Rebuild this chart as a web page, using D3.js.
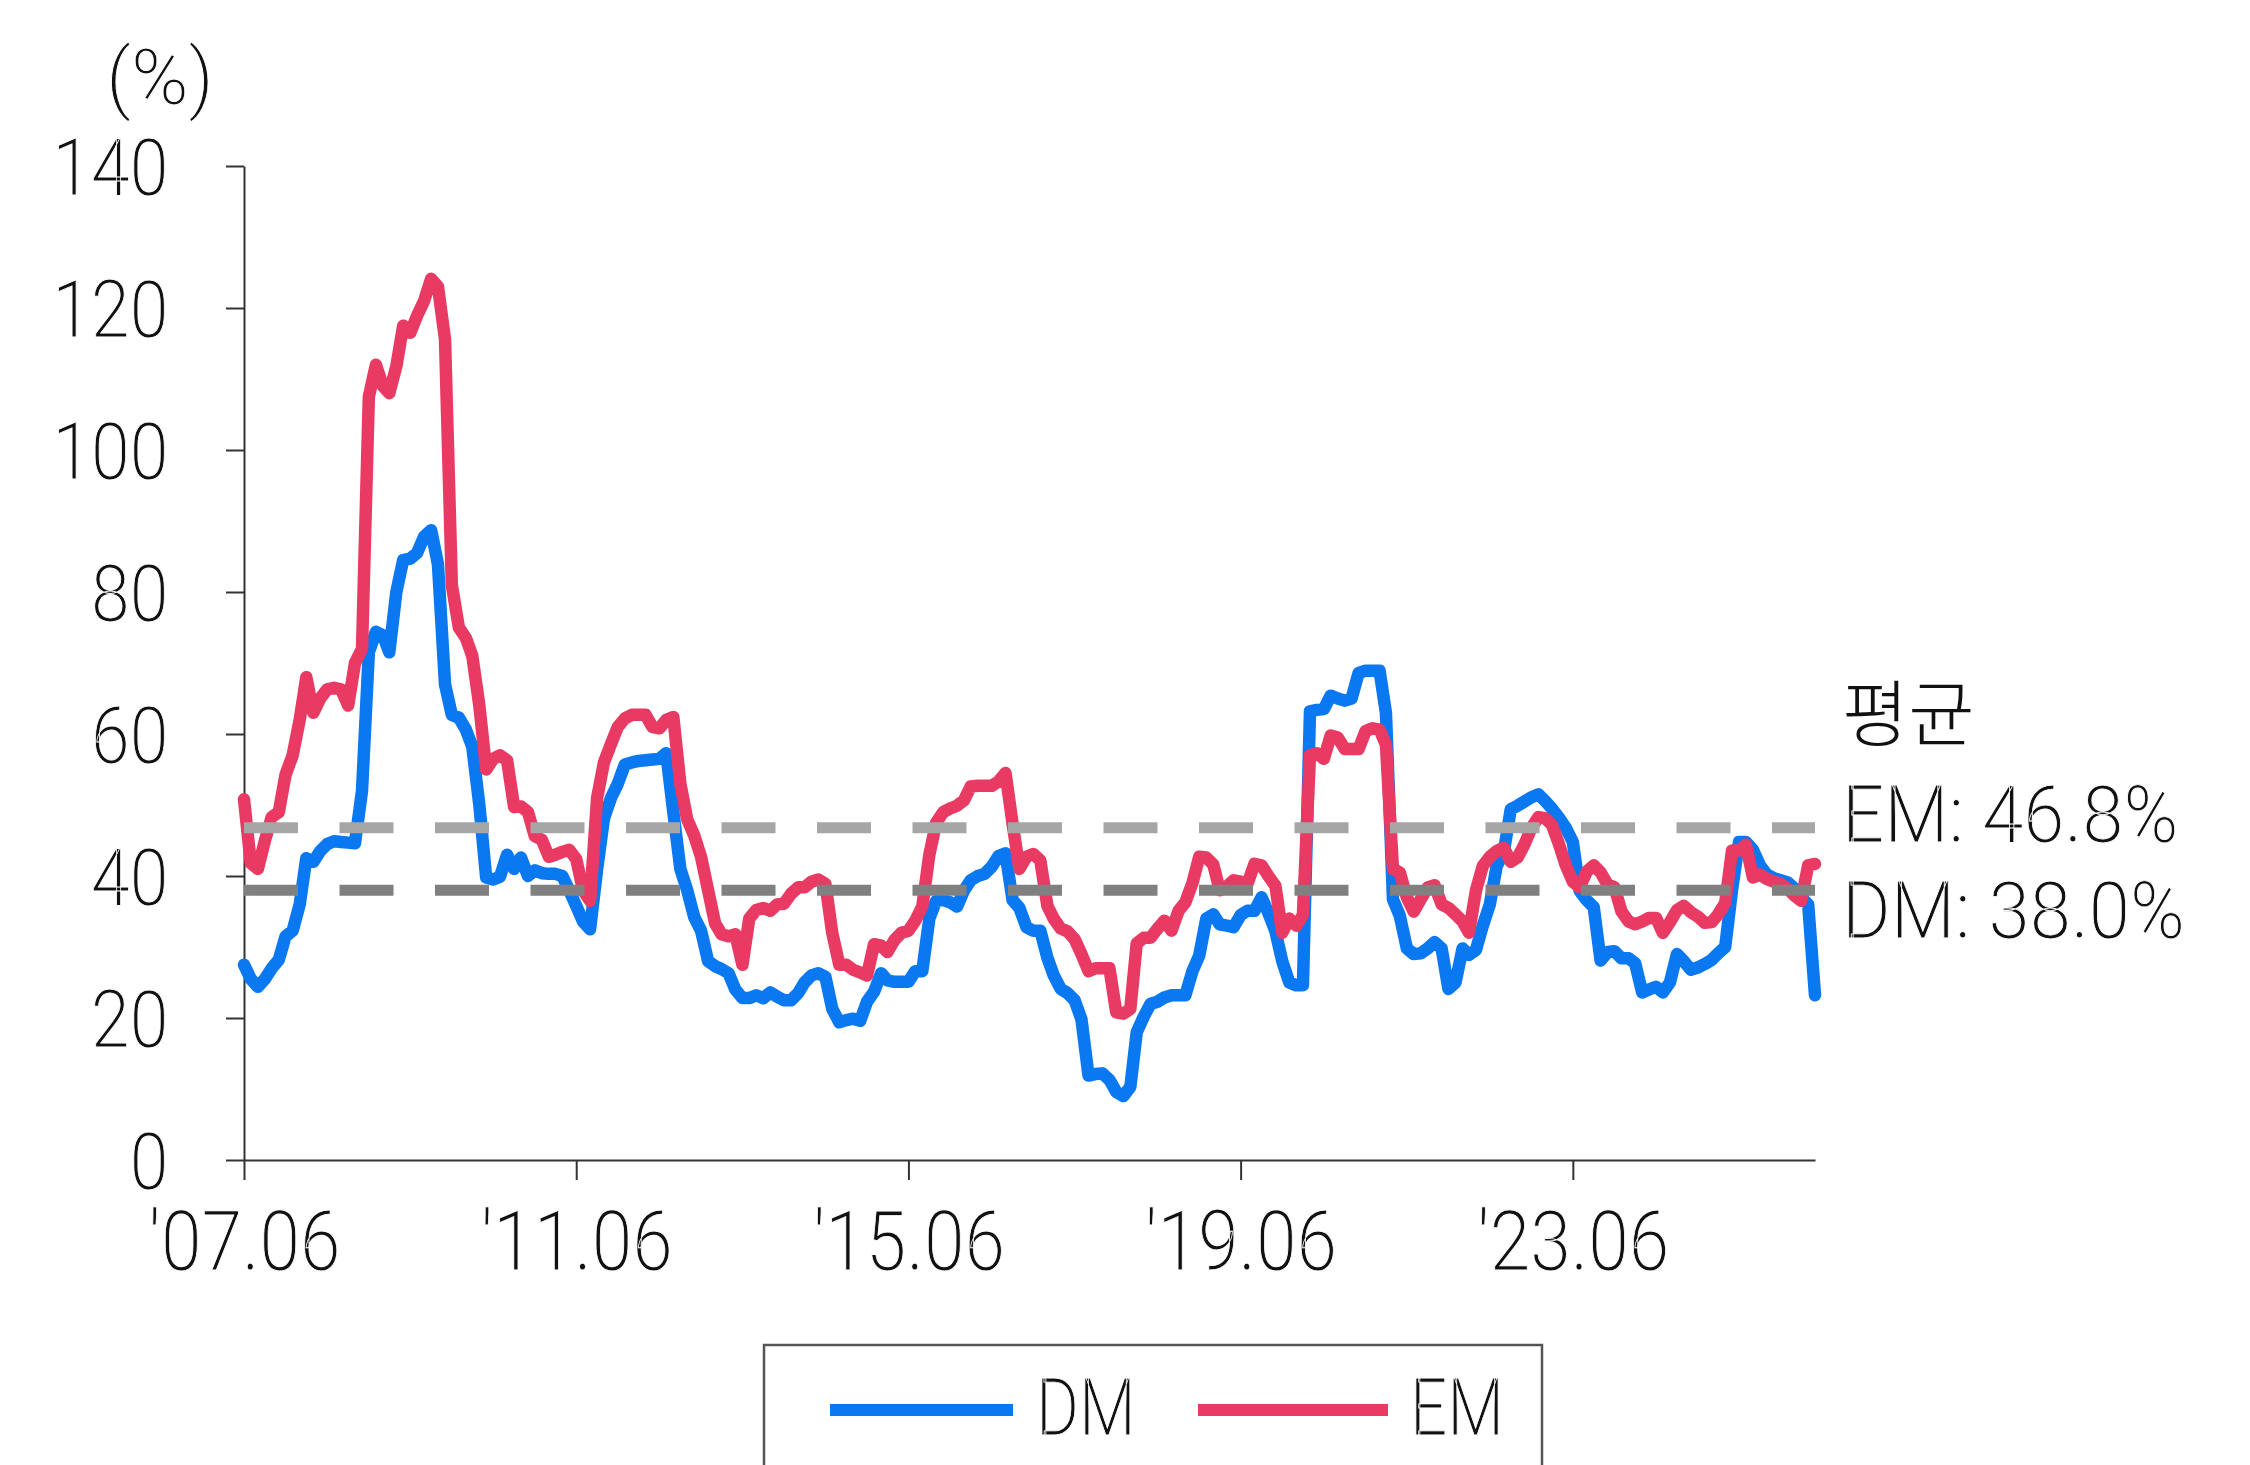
<!DOCTYPE html>
<html>
<head>
<meta charset="utf-8">
<script src="https://cdn.jsdelivr.net/npm/d3@7"></script>
<style>
  body { margin: 0; background: #fff; }
  svg text { font-family: Roboto, "Noto Sans", sans-serif; font-weight: 300; fill: #111; stroke: #fff; stroke-width: 0.9px; }
  .axis path, .axis line { stroke: #333; stroke-width: 2; }
</style>
</head>
<body>
<div id="chart"></div>
<script>
// monthly values, '07.06 ~ '26.05
var startMonth = "2007-06";

var dmValues = [
  27.5, 25.5, 24.4, 25.5, 27, 28.2, 31.5, 32.3, 36, 42.5, 42, 43.5,
  44.5, 44.9, 44.8, 44.7, 44.6, 52, 71.5, 74.4, 73.9, 71.5, 80, 84.5,
  84.7, 85.5, 87.8, 88.7, 83.9, 67, 62.7, 62.3, 60.6, 58.2, 50, 39.8,
  39.5, 39.9, 43, 41, 42.6, 40, 40.8, 40.4, 40.3, 40.3, 40, 38,
  35.8, 33.6, 32.5, 41, 48.1, 51, 53, 55.7, 56, 56.2, 56.3, 56.4,
  56.5, 57.3, 49, 41, 38, 34.2, 32.3, 28, 27.3, 26.9, 26.3, 24,
  22.8, 22.8, 23.2, 22.8, 23.6, 23, 22.5, 22.5, 23.5, 25, 26, 26.3,
  25.8, 21.3, 19.4, 19.7, 19.9, 19.6, 22.3, 23.7, 26.3, 25.3, 25.1, 25.1,
  25.1, 26.6, 26.6, 34, 36.5, 36.6, 36.3, 35.7, 38, 39.4, 40, 40.3,
  41.3, 42.8, 43.2, 36.6, 35.5, 32.8, 32.3, 32.3, 28.5, 26, 24.1, 23.5,
  22.5, 19.8, 11.9, 12.1, 12.2, 11.3, 9.6, 9, 10.3, 18, 20.2, 22,
  22.3, 22.9, 23.2, 23.2, 23.2, 26.6, 28.8, 34, 34.6, 33.2, 33, 32.8,
  34.5, 35.1, 35.1, 37, 34.8, 32.2, 28, 25, 24.6, 24.6, 63.2, 63.4,
  63.5, 65.4, 65, 64.7, 65, 68.6, 68.9, 68.9, 68.9, 63, 36.7, 34.4,
  29.8, 29, 29.1, 29.8, 30.7, 29.8, 24.1, 25, 29.8, 28.9, 29.6, 33,
  36, 41.4, 43.3, 49.4, 49.9, 50.5, 51.1, 51.5, 50.5, 49.5, 48.2, 46.8,
  44.8, 37.9, 36.6, 35.6, 28.1, 29.3, 29.4, 28.4, 28.4, 27.7, 23.6, 24,
  24.4, 23.6, 25, 29, 28, 26.8, 27.1, 27.6, 28.2, 29.1, 30, 38,
  44.8, 44.8, 43.7, 41.5, 40.2, 39.7, 39.4, 39.1, 38.2, 37, 36, 23.2
];

var emValues = [
  50.8, 41.8, 41, 45, 48.3, 49, 54.3, 57, 62, 68, 63, 65,
  66.3, 66.5, 66.3, 64, 70, 72, 107.5, 112, 109, 108, 111.8, 117.5,
  116.5, 118.9, 121, 124.1, 123, 115.6, 81, 75, 73.5, 71, 64, 55,
  56.5, 57, 56.3, 49.7, 49.8, 49, 45.6, 45.1, 42.7, 43, 43.4, 43.7,
  42.4, 38, 36.5, 51, 56, 58.6, 61, 62.2, 62.7, 62.7, 62.7, 61,
  60.8, 62, 62.4, 53, 48, 45.7, 42.7, 38, 33.3, 31.8, 31.5, 31.8,
  27.5, 34, 35.2, 35.5, 35.1, 36, 36.1, 37.5, 38.4, 38.4, 39.2, 39.5,
  38.9, 32, 27.5, 27.5, 26.8, 26.4, 26, 30.4, 30.2, 29.3, 31, 32,
  32.3, 33.7, 35.7, 43, 47.5, 49, 49.5, 49.9, 50.7, 52.6, 52.7, 52.7,
  52.7, 53.3, 54.5, 47.4, 41, 42.7, 43.1, 42.2, 35.8, 34, 32.6, 32.2,
  31.1, 29, 26.6, 27, 27, 27, 20.8, 20.6, 21.3, 30.5, 31.3, 31.3,
  32.6, 33.7, 32.3, 35.1, 36.3, 39, 42.7, 42.6, 41.6, 38, 38.5, 39.4,
  39.2, 38.9, 41.7, 41.5, 40, 38.6, 32, 34, 33, 34.5, 57, 57.3,
  56.5, 59.8, 59.5, 57.9, 57.9, 57.9, 60.4, 60.8, 60.6, 58.5, 41, 40.5,
  37, 35, 36.7, 38.4, 38.7, 36, 35.5, 34.6, 33.6, 32, 38, 41.4,
  42.7, 43.5, 44, 42, 42.6, 44.5, 46.8, 48.3, 48.1, 47.2, 44.5, 41.5,
  39.2, 38.4, 40.6, 41.5, 40.5, 38.8, 38.4, 35, 33.6, 33.2, 33.6, 34.1,
  34.1, 32, 33.5, 35.2, 35.8, 34.9, 34.3, 33.4, 33.5, 34.6, 36.2, 43.6,
  43.6, 44.4, 39.8, 40.2, 39.6, 39.2, 38.9, 38.2, 37.2, 36.5, 41.5, 41.7
];

var seriesNames = ["DM", "EM"];
var averageNames = ["EM", "DM"];
var averageValues = [46.8, 38.0];
var averageTitle = "평균";
var xTickMonths = ["2007-06", "2011-06", "2015-06", "2019-06", "2023-06"];
var yTickValues = [0, 20, 40, 60, 80, 100, 120, 140];
var unitLabel = "(%)";

function timeLineChart() {
  var _chart = {};

  var _width = 2250, _height = 1465,
    _margins = {top: 166, left: 244, right: 435, bottom: 305},
    _series = [],
    _averages = [],
    _x, _y,
    _colors = {DM: "#0a78f0", EM: "#e83a62"},
    _avgColors = {EM: "#a6a6a6", DM: "#808080"},
    _svg,
    _bodyG;

  _chart.render = function (id) {
    if (!_svg) {
      _svg = d3.select('#' + id).append("svg")
        .attr("width", _width)
        .attr("height", _height);
      renderAxes(_svg);
    }
    renderBody(_svg);
    renderAverages(_svg);
    renderLegend(_svg);
  };

  function renderAxes(svg) {
    var axesG = svg.append("g")
      .attr("class", "axes");
    renderXAxis(axesG);
    renderYAxis(axesG);

    svg.append("text")
      .attr("x", 160)
      .attr("y", 104)
      .attr("text-anchor", "middle")
      .style("font-size", "78px")
      .text(unitLabel);
  }

  function renderXAxis(axesG) {
    var parse = d3.timeParse("%Y-%m");
    var xAxis = d3.axisBottom()
      .scale(_x.range([0, quadrantWidth()]))
      .tickValues(xTickMonths.map(parse))
      .tickFormat(d3.timeFormat("'%y.%m"))
      .tickSize(20)
      .tickSizeOuter(0);

    var g = axesG.append("g")
      .attr("class", "x axis")
      .attr("transform", "translate(" + xStart() + "," + yStart() + ")")
      .call(xAxis);

    g.selectAll("text")
      .attr("y", 50)
      .attr("dy", "0.71em")
      .attr("transform", "scale(0.87,1)")
      .style("font-size", "84px")
      .style("font-family", "Roboto, sans-serif");
  }

  function renderYAxis(axesG) {
    var yAxis = d3.axisLeft()
      .scale(_y.range([quadrantHeight(), 0]))
      .tickValues(yTickValues)
      .tickSize(18)
      .tickSizeOuter(0);

    var g = axesG.append("g")
      .attr("class", "y axis")
      .attr("transform", "translate(" + xStart() + "," + yEnd() + ")")
      .call(yAxis);

    g.selectAll("text")
      .attr("x", -87)
      .attr("dy", "0.36em")
      .attr("transform", "scale(0.87,1)")
      .style("font-size", "80px")
      .style("font-family", "Roboto, sans-serif");
  }

  function renderBody(svg) {
    if (!_bodyG)
      _bodyG = svg.append("g")
        .attr("class", "body")
        .attr("transform", "translate(" + xStart() + "," + yEnd() + ")");

    var line = d3.line()
      .x(function (d) { return _x(d.date); })
      .y(function (d) { return _y(d.value); });

    _bodyG.selectAll("path.line")
      .data(_series)
      .enter()
      .append("path")
      .attr("class", "line")
      .style("fill", "none")
      .style("stroke", function (d) { return _colors[d.name]; })
      .style("stroke-width", 12.5)
      .style("stroke-linejoin", "round")
      .style("stroke-linecap", "round")
      .attr("d", function (d) { return line(d.values); });
  }

  function renderAverages(svg) {
    _bodyG.selectAll("line.avg")
      .data(_averages)
      .enter()
      .append("line")
      .attr("class", "avg")
      .attr("x1", 0)
      .attr("x2", quadrantWidth())
      .attr("y1", function (d) { return _y(d.value); })
      .attr("y2", function (d) { return _y(d.value); })
      .style("stroke", function (d) { return _avgColors[d.name]; })
      .style("stroke-width", 11)
      .style("stroke-dasharray", "54,41.5");

    var labelG = svg.append("g")
      .attr("class", "avg-labels")
      .attr("transform", "translate(1842,0)");

    labelG.append("text")
      .attr("y", 740)
      .style("font-family", "'Noto Sans CJK KR', sans-serif")
      .style("font-weight", 300)
      .style("font-size", "72px")
      .style("stroke-width", "0px")
      .text(averageTitle);

    labelG.selectAll("text.avg-value")
      .data(_averages)
      .enter()
      .append("text")
      .attr("class", "avg-value")
      .attr("transform", function (d, i) {
        return "translate(0," + (842 + i * 96) + ") scale(0.94,1)";
      })
      .style("font-size", "79px")
      .text(function (d) { return d.name + ": " + d.value.toFixed(1) + "%"; });
  }

  function renderLegend(svg) {
    var legendG = svg.append("g")
      .attr("class", "legend");

    legendG.append("rect")
      .attr("x", 764)
      .attr("y", 1345)
      .attr("width", 778)
      .attr("height", 200)
      .style("fill", "none")
      .style("stroke", "#555")
      .style("stroke-width", 2.5);

    var item = legendG.selectAll("g.item")
      .data(_series)
      .enter()
      .append("g")
      .attr("class", "item")
      .attr("transform", function (d, i) {
        return "translate(" + (830 + i * 368) + ",1410)";
      });

    item.append("line")
      .attr("x1", 0)
      .attr("x2", function (d, i) { return i ? 190 : 183; })
      .style("stroke", function (d) { return _colors[d.name]; })
      .style("stroke-width", 12);

    item.append("text")
      .attr("transform", function (d, i) {
        return "translate(" + (i ? 212 : 206) + ",25) scale(0.82,1)";
      })
      .style("font-size", "80px")
      .text(function (d) { return d.name; });
  }

  function xStart() { return _margins.left; }
  function yStart() { return _height - _margins.bottom; }
  function yEnd() { return _margins.top; }
  function quadrantWidth() { return _width - _margins.left - _margins.right; }
  function quadrantHeight() { return _height - _margins.top - _margins.bottom; }

  _chart.x = function (x) {
    if (!arguments.length) return _x;
    _x = x;
    return _chart;
  };

  _chart.y = function (y) {
    if (!arguments.length) return _y;
    _y = y;
    return _chart;
  };

  _chart.series = function (s) {
    if (!arguments.length) return _series;
    _series = s;
    return _chart;
  };

  _chart.averages = function (a) {
    if (!arguments.length) return _averages;
    _averages = a;
    return _chart;
  };

  return _chart;
}

var start = d3.timeParse("%Y-%m")(startMonth);
var months = dmValues.map(function (v, i) { return d3.timeMonth.offset(start, i); });

var series = seriesNames.map(function (name) {
  var vals = name === "DM" ? dmValues : emValues;
  return {
    name: name,
    values: vals.map(function (v, i) { return {date: months[i], value: v}; })
  };
});

var averages = averageNames.map(function (name, i) {
  return {name: name, value: averageValues[i]};
});

var chart = timeLineChart()
  .x(d3.scaleTime().domain([months[0], months[months.length - 1]]))
  .y(d3.scaleLinear().domain([0, 140]))
  .series(series)
  .averages(averages);

chart.render("chart");
</script>
</body>
</html>
